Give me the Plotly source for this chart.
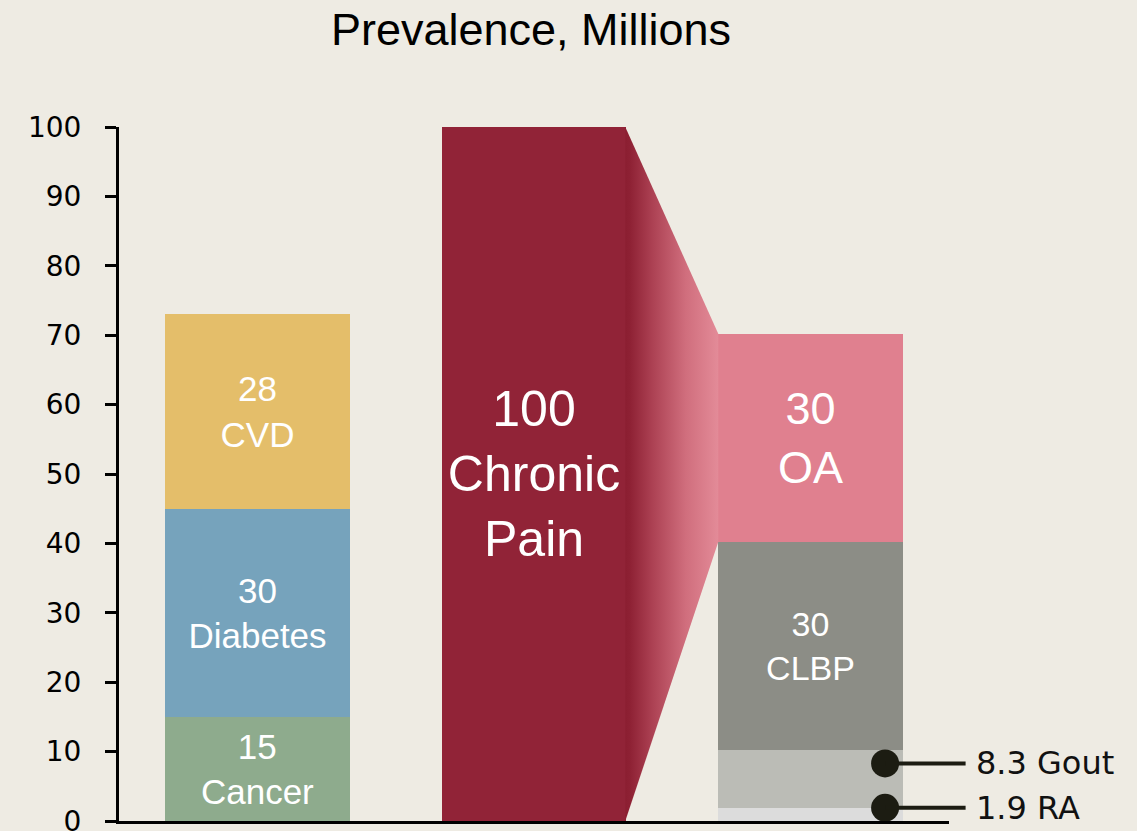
import plotly.graph_objects as go

# Prevalence (millions) of conditions, stacked bottom-up
comorb_names = ["Cancer", "Diabetes", "CVD"]
comorb_values = [15, 30, 28]
comorb_colors = ["#8eab8d", "#76a3bc", "#e4be6a"]

pain_name = "Chronic Pain"
pain_value = 100
pain_color = "#912337"

pain_sub_names = ["RA", "Gout", "CLBP", "OA"]
pain_sub_values = [1.9, 8.3, 30, 30]
pain_sub_colors = ["#dcdcdc", "#bbbcb6", "#8c8d86", "#e0808f"]
pain_sub_labeled = [False, False, True, True]

y_ticks = [0, 10, 20, 30, 40, 50, 60, 70, 80, 90, 100]

BG = "#eeebe3"
BAR_W = 0.668
X_RANGE = [-0.5, 2.5]
FONT = "Liberation Sans, Arial, sans-serif"
TICK_FONT = "DejaVu Sans, sans-serif"


def to_paper(x):
    return (x - X_RANGE[0]) / (X_RANGE[1] - X_RANGE[0])


fig = go.Figure()

# Left column: comorbidities
for name, val, col in zip(comorb_names, comorb_values, comorb_colors):
    fig.add_trace(go.Bar(
        x=[0], y=[val], width=BAR_W, marker=dict(color=col, line_width=0),
        text=[f"{val:g}<br>{name}"], textposition="inside", insidetextanchor="middle",
        textfont=dict(family=FONT, size=35, color="white"), constraintext="none",
        hoverinfo="skip", showlegend=False))

# Middle column: chronic pain total
fig.add_trace(go.Bar(
    x=[1], y=[pain_value], width=BAR_W, marker=dict(color=pain_color, line_width=0),
    text=[f"{pain_value:g}<br>" + pain_name.replace(" ", "<br>")],
    textposition="inside", insidetextanchor="middle",
    textfont=dict(family=FONT, size=50, color="white"), constraintext="none",
    hoverinfo="skip", showlegend=False))

# Right column: chronic pain conditions
for name, val, col, lab in zip(pain_sub_names, pain_sub_values, pain_sub_colors, pain_sub_labeled):
    size = 45 if name == "OA" else 34
    fig.add_trace(go.Bar(
        x=[2], y=[val], width=BAR_W, marker=dict(color=col, line_width=0),
        text=[f"{val:g}<br>{name}" if lab else ""], textposition="inside",
        insidetextanchor="middle",
        textfont=dict(family=FONT, size=size, color="white"), constraintext="none",
        hoverinfo="skip", showlegend=False))

# Funnel from the chronic pain bar into the OA segment
oa_bottom = sum(pain_sub_values[:3])
oa_top = oa_bottom + pain_sub_values[3]
x0, x1 = 1 + BAR_W / 2 - 0.004, 2 - BAR_W / 2
fig.add_trace(go.Scatter(
    x=[x0, x1, x1, x0, x0], y=[pain_value, oa_top, oa_bottom, 0, pain_value],
    mode="lines", line=dict(width=0), fill="toself",
    fillgradient=dict(type="horizontal", colorscale=[
        [0.0, "#8b1e31"], [0.05, "#8e2134"], [0.3, "#ad4254"], [0.65, "#d06e7d"],
        [1.0, "#e38b98"]]),
    hoverinfo="skip", showlegend=False))

# Callouts for the small segments
callout_x = 2.269
line_end = 2.56
label_x = 2.592
for name, val in zip(pain_sub_names[:2], pain_sub_values[:2]):
    fig.add_shape(type="line", xref="paper", yref="y",
                  x0=to_paper(callout_x), x1=to_paper(line_end),
                  y0=val, y1=val, line=dict(color="#1c1c12", width=4))
    fig.add_trace(go.Scatter(
        x=[callout_x], y=[val], mode="markers",
        marker=dict(size=28, color="#1c1c12"), cliponaxis=False,
        hoverinfo="skip", showlegend=False))
    fig.add_annotation(x=to_paper(label_x), y=val, xref="paper", yref="y",
                       text=f"{val:g} {name}",
                       showarrow=False, xanchor="left", yanchor="middle",
                       font=dict(family=TICK_FONT, size=32, color="#111111"))

fig.update_layout(
    width=1137, height=831,
    margin=dict(l=119, r=188, t=127, b=10, autoexpand=False),
    paper_bgcolor=BG, plot_bgcolor=BG,
    barmode="stack", bargap=0,
    title=dict(text="Prevalence, Millions", x=531 / 1137, xanchor="center",
               y=1 - 29 / 831, yanchor="middle",
               font=dict(family=FONT, size=45, color="#000000")),
)
fig.update_xaxes(range=X_RANGE, showticklabels=False, showgrid=False, zeroline=False,
                 showline=True, linecolor="#000000", linewidth=3, ticks="",
                 automargin=False)
fig.update_yaxes(range=[0, 100], tickvals=y_ticks, showgrid=False, zeroline=False,
                 showline=True, linecolor="#000000", linewidth=3,
                 ticks="outside", ticklen=11, tickwidth=2.5, tickcolor="#000000",
                 ticklabelstandoff=18, ticklabeloverflow="allow", automargin=False,
                 tickfont=dict(family=TICK_FONT, size=28, color="#000000"))

fig.write_html("out.html")
